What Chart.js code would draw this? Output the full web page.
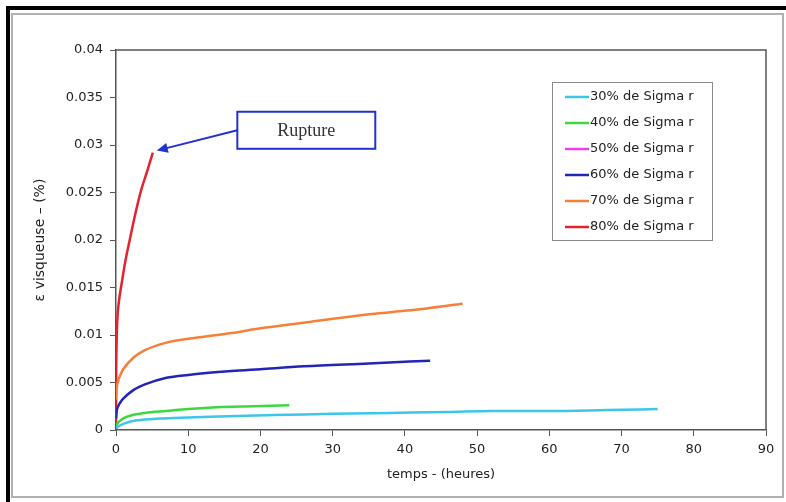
<!DOCTYPE html>
<html>
<head>
<meta charset="utf-8">
<script src="https://cdn.jsdelivr.net/npm/chart.js@4/dist/chart.umd.min.js"></script>
<style>
    html, body { margin: 0; padding: 0; background: #fff; }
    #creepChart { display: block; }
</style>
</head>
<body>
<canvas id="creepChart" width="786" height="502"></canvas>
<script>
// temps (heures) and epsilon visqueuse (%)
const t30 = [0, 0.2, 0.6, 1.2, 2, 4, 6, 9, 13, 18, 24, 30, 38, 46, 52, 60, 68, 75];
const eps30 = [0.0002, 0.0003, 0.0005, 0.0007, 0.0009, 0.0011, 0.0012, 0.0013, 0.0014, 0.0015, 0.0016, 0.0017, 0.0018, 0.0019, 0.0020, 0.0020, 0.0021, 0.0022];
const t40 = [0, 0.2, 0.6, 1.2, 2.4, 4, 7, 10, 14, 19, 24];
const eps40 = [0.0003, 0.0007, 0.0010, 0.0013, 0.0016, 0.0018, 0.0020, 0.0022, 0.0024, 0.0025, 0.0026];
const t50 = [];
const eps50 = [];
const t60 = [0, 0.1, 0.3, 0.6, 1, 2.4, 4, 7, 10, 16, 20, 26, 35, 43.5];
const eps60 = [0.0012, 0.0020, 0.0025, 0.0029, 0.0033, 0.0042, 0.0048, 0.0055, 0.0058, 0.0062, 0.0064, 0.0067, 0.0070, 0.0073];
const t70 = [0, 0.1, 0.3, 0.6, 1, 2.4, 4, 7, 10, 16, 20, 26, 32, 38, 43, 48];
const eps70 = [0.0032, 0.0044, 0.0052, 0.0058, 0.0064, 0.0076, 0.0084, 0.0092, 0.0096, 0.0102, 0.0107, 0.0113, 0.0119, 0.0124, 0.0128, 0.0133];
const t80 = [0, 0.02, 0.08, 0.2, 0.4, 0.8, 1.3, 1.9, 2.6, 3.5, 4.3, 5.1];
const eps80 = [0, 0.005, 0.009, 0.0118, 0.0135, 0.0155, 0.0178, 0.0200, 0.0225, 0.0253, 0.0272, 0.0292];

const seriesNames = ['30% de Sigma r', '40% de Sigma r', '50% de Sigma r', '60% de Sigma r', '70% de Sigma r', '80% de Sigma r'];
const seriesColors = ['#3cc6ea', '#3ed83e', '#f03cf0', '#2424b8', '#f5803a', '#e3232f'];
const seriesTimes = [t30, t40, t50, t60, t70, t80];
const seriesValues = [eps30, eps40, eps50, eps60, eps70, eps80];

const xTickLabels = ['0', '10', '20', '30', '40', '50', '60', '70', '80', '90'];
const yTickLabels = ['0', '0.005', '0.01', '0.015', '0.02', '0.025', '0.03', '0.035', '0.04'];

const tickFont = { family: 'DejaVu Sans', size: 13 };
const textColor = '#222';

// frame around the figure + box around plot area
const framePlugin = {
    id: 'frame',
    beforeDraw(chart) {
        const c = chart.ctx;
        c.save();
        c.fillStyle = '#ffffff';
        c.fillRect(0, 0, chart.width, chart.height);
        c.fillStyle = '#000';
        c.fillRect(6, 6, chart.width - 6, 4);
        c.fillRect(6, 6, 4, chart.height - 6);
        c.strokeStyle = '#b0b0b0';
        c.lineWidth = 2;
        c.strokeRect(12, 14, chart.width - 15, chart.height - 19);
        c.restore();
    },
    afterDraw(chart) {
        const a = chart.chartArea, c = chart.ctx;
        c.save();
        c.strokeStyle = '#555';
        c.lineWidth = 1.5;
        c.beginPath();
        c.moveTo(a.left, a.top);
        c.lineTo(a.right, a.top);
        c.lineTo(a.right, a.bottom);
        c.stroke();
        c.restore();
    }
};

// legend box inside the plot
const boxLegend = {
    id: 'boxLegend',
    afterDraw(chart) {
        const c = chart.ctx;
        c.save();
        c.fillStyle = '#fff';
        c.fillRect(552, 82, 160, 158);
        c.strokeStyle = '#8a8a8a';
        c.lineWidth = 1;
        c.strokeRect(552.5, 82.5, 160, 158);
        c.font = '13px "DejaVu Sans"';
        c.textBaseline = 'middle';
        chart.data.datasets.forEach((ds, i) => {
            const y = 97 + i * 26;
            c.strokeStyle = ds.borderColor;
            c.lineWidth = 2.5;
            c.beginPath();
            c.moveTo(565, y);
            c.lineTo(589, y);
            c.stroke();
            c.fillStyle = textColor;
            c.fillText(ds.label, 590, y);
        });
        c.restore();
    }
};

// "Rupture" callout pointing to the end of the 80% curve
const rupturePlugin = {
    id: 'rupture',
    afterDraw(chart) {
        const xs = chart.scales.x, ys = chart.scales.y, c = chart.ctx;
        const left = xs.getPixelForValue(16.8), right = xs.getPixelForValue(35.9);
        const top = ys.getPixelForValue(0.0335), bottom = ys.getPixelForValue(0.0296);
        const tipX = xs.getPixelForValue(t80[t80.length - 1]) + 4;
        const tipY = ys.getPixelForValue(eps80[eps80.length - 1]) - 2;
        const fromX = left, fromY = (top + bottom) / 2;
        c.save();
        c.strokeStyle = '#2233cc';
        c.fillStyle = '#2233cc';
        c.lineWidth = 2;
        const ang = Math.atan2(tipY - fromY, tipX - fromX);
        c.beginPath();
        c.moveTo(fromX, fromY);
        c.lineTo(tipX - 8 * Math.cos(ang), tipY - 8 * Math.sin(ang));
        c.stroke();
        c.beginPath();
        c.moveTo(tipX, tipY);
        c.lineTo(tipX - 11 * Math.cos(ang) + 5 * Math.sin(ang), tipY - 11 * Math.sin(ang) - 5 * Math.cos(ang));
        c.lineTo(tipX - 11 * Math.cos(ang) - 5 * Math.sin(ang), tipY - 11 * Math.sin(ang) + 5 * Math.cos(ang));
        c.closePath();
        c.fill();
        c.fillStyle = '#fff';
        c.fillRect(left, top, right - left, bottom - top);
        c.strokeRect(left, top, right - left, bottom - top);
        c.fillStyle = '#333';
        c.font = '18px "Liberation Serif"';
        c.textAlign = 'center';
        c.textBaseline = 'middle';
        c.fillText('Rupture', (left + right) / 2, (top + bottom) / 2 + 1);
        c.restore();
    }
};

window.addEventListener('DOMContentLoaded', function() {
    const ctx = document.getElementById('creepChart').getContext('2d');
    const datasets = seriesNames.map((name, i) => ({
        label: name,
        data: seriesTimes[i].map((t, j) => ({ x: t, y: seriesValues[i][j] })),
        borderColor: seriesColors[i],
        backgroundColor: seriesColors[i],
        borderWidth: 2.5,
        pointRadius: 0,
        fill: false,
        cubicInterpolationMode: 'monotone'
    }));
    new Chart(ctx, {
        type: 'line',
        data: { datasets: datasets },
        options: {
            responsive: false,
            animation: false,
            layout: { padding: { top: 50, right: 20, left: 0, bottom: 0 } },
            plugins: { legend: { display: false }, tooltip: { enabled: false } },
            scales: {
                x: {
                    type: 'linear',
                    min: 0, max: 90,
                    afterFit: s => { s.height = 72; },
                    ticks: { stepSize: 10, font: tickFont, color: textColor, padding: 6,
                             callback: (v, i) => xTickLabels[i] },
                    grid: { drawOnChartArea: false, drawTicks: true, tickLength: 6, color: '#555' },
                    border: { display: true, color: '#555', width: 1.5 },
                    title: { display: true, text: 'temps - (heures)', color: textColor,
                             font: { family: 'DejaVu Sans', size: 13 }, padding: { top: 20, bottom: 20 } }
                },
                y: {
                    type: 'linear',
                    min: 0, max: 0.04,
                    afterFit: s => { s.width = 116; },
                    ticks: { stepSize: 0.005, font: tickFont, color: textColor, padding: 7,
                             callback: (v, i) => yTickLabels[i] },
                    grid: { drawOnChartArea: false, drawTicks: true, tickLength: 6, color: '#555' },
                    border: { display: true, color: '#555', width: 1.5 },
                    title: { display: true, text: 'ε visqueuse – (%)', color: textColor,
                             font: { family: 'DejaVu Sans', size: 14 }, padding: { top: 32, bottom: 32 } }
                }
            }
        },
        plugins: [framePlugin, boxLegend, rupturePlugin]
    });
});
</script>
</body>
</html>
